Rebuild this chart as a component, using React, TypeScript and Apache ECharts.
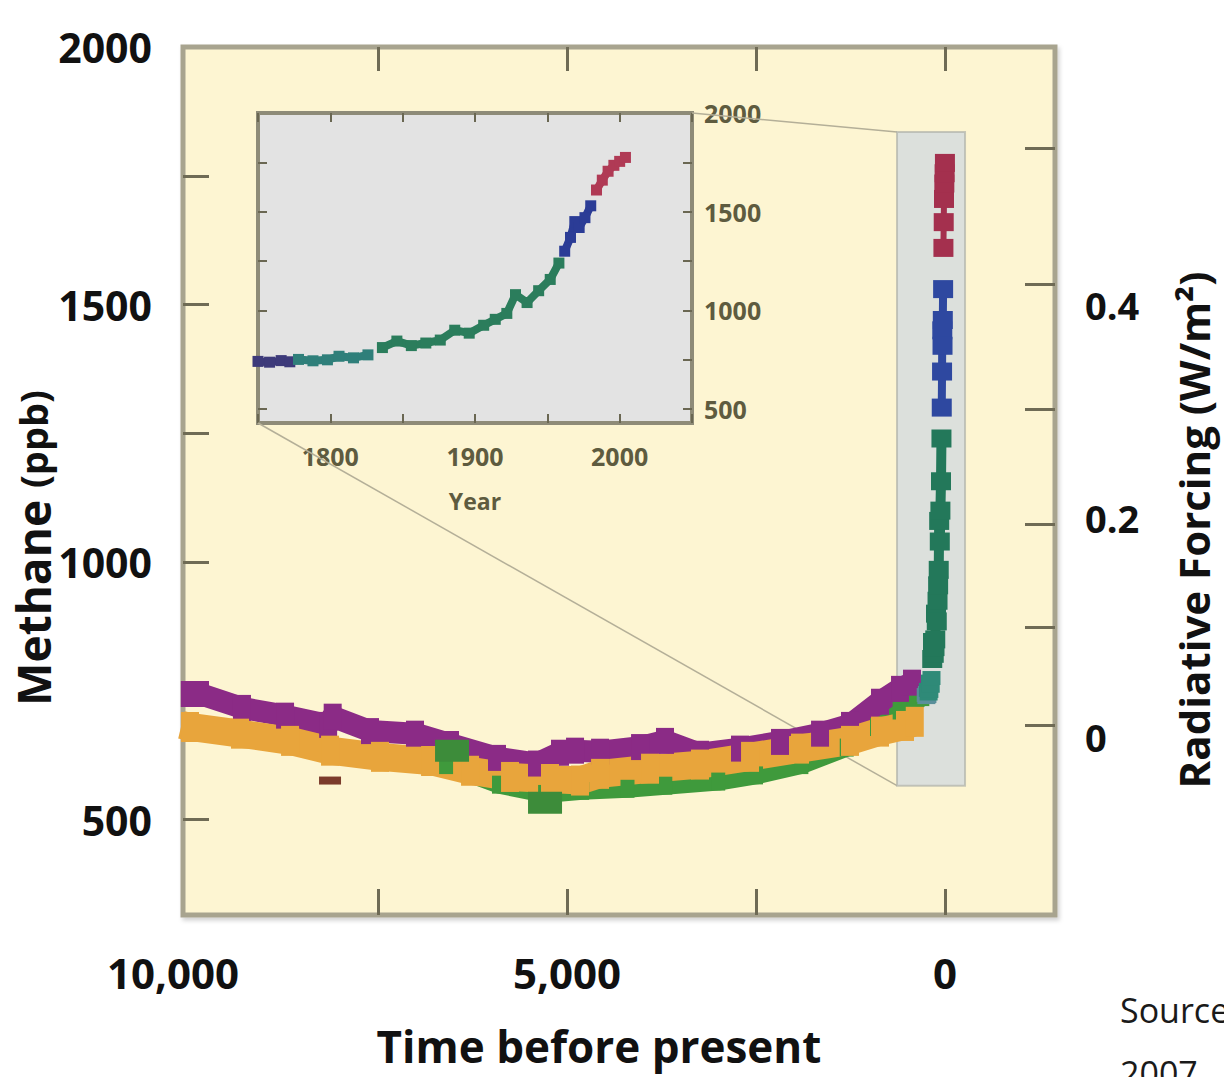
import React, { useEffect, useRef } from "react";
import * as echarts from "echarts";

// ---------- data ----------
const REF_YEAR = 2005;

// main panel x axis (years before present)
const mainXMin = -1455;
const mainXMax = 10080;
const mainXTicks = [7500, 5000, 2500, 0];
const mainXLabels = [10000, 5000, 0];

// methane axis (ppb)
const ppbMin = 315;
const ppbMax = 2000;
const ppbTicks = [500, 750, 1000, 1250, 1500, 1750];
const ppbLabels = [500, 1000, 1500, 2000];

// radiative forcing axis (positions in ppb)
const rfTickPpb = [684, 874, 1074, 1297, 1539, 1804];
const rfLabelPpb = [660, 1085, 1500];
const rfLabelText = ["0", "0.2", "0.4"];

// ice core series (years before present, ppb)
const purpleBP = [10100, 9990, 9855, 9300, 8730, 8160, 8100, 7606, 7011, 6548, 5926, 5397, 5093, 4894, 4563, 4034, 3704, 3241, 2712, 2183, 1653, 1257, 860, 595, 437];
const purplePpb = [744, 744, 744, 717, 702, 684, 700, 672, 667, 647, 620, 609, 630, 634, 632, 641, 653, 628, 638, 651, 667, 684, 729, 754, 766];

const orangeBP = [10100, 9987, 9326, 8664, 8135, 7474, 6812, 6283, 5754, 5225, 4828, 4563, 3902, 3241, 2579, 1918, 1257, 860, 529, 400];
const orangePpb = [684, 680, 667, 653, 634, 622, 614, 595, 583, 579, 576, 589, 599, 607, 622, 638, 653, 671, 682, 690];

const greenBP = [6600, 5900, 5290, 4800, 4200, 3700, 3000, 2500, 1900, 1300, 900, 600, 400, 300];
const greenPpb = [606, 568, 550, 556, 560, 566, 574, 586, 606, 640, 680, 712, 728, 738];

const greenBlobBP = [6521, 5291];
const greenBlobPpb = [634, 533];

const outlierBP = [8135];
const outlierPpb = [576];

// instrumental / firn era (calendar years, ppb)
const navyYears = [1750, 1758, 1766, 1772];
const navyPpb = [742, 738, 746, 740];
const tealYears = [1778, 1788, 1798, 1806, 1816, 1826];
const tealPpb = [752, 745, 750, 768, 760, 775];
const greenModYears = [1836, 1846, 1856, 1866, 1876, 1886, 1896, 1906, 1914, 1922, 1928, 1936, 1944, 1952, 1958];
const greenModPpb = [812, 845, 822, 835, 850, 900, 885, 925, 955, 985, 1080, 1040, 1100, 1157, 1240];
const blueYears = [1962, 1966, 1969, 1972, 1976, 1980];
const bluePpb = [1300, 1370, 1450, 1420, 1470, 1530];
const redYears = [1984, 1988, 1992, 1996, 2000, 2004];
const redPpb = [1610, 1660, 1705, 1735, 1755, 1775];

// highlighted recent period (years before present, ppb)
const bandBP = [635, -265];
const bandPpb = [566, 1835];

// inset axes
const insetXMin = 1750;
const insetXMax = 2050;
const insetXLabels = [1800, 1900, 2000];
const insetYMin = 430;
const insetYMax = 2000;
const insetYTicks = [500, 750, 1000, 1250, 1500, 1750];
const insetYLabels = [500, 1000, 1500, 2000];

// ---------- helpers ----------
const zip = (a: number[], b: number[]) => a.map((v, i) => [v, b[i]]);
const toBP = (years: number[]) => years.map((y) => REF_YEAR - y);
const plain = (v: number) => String(v);

const FONT = "Open Sans";
const TICK = "#6f6b55";
const INSET_TXT = "#5e5b3f";

export default function App() {
  const ref = useRef<HTMLDivElement>(null);

  useEffect(() => {
    if (!ref.current) return;
    const chart = echarts.init(ref.current, null, { renderer: "svg" });

    const mainLine = (name: string, data: number[][], color: string, width: number, sym: number[], z = 2) => ({
      name,
      type: "line",
      xAxisIndex: 0,
      yAxisIndex: 0,
      data,
      z,
      showAllSymbol: true,
      symbol: "rect",
      symbolSize: sym,
      itemStyle: { color },
      lineStyle: { color, width, cap: "butt", join: "round" },
      silent: true,
    });

    const insetLine = (name: string, data: number[][], color: string) => ({
      name,
      type: "line",
      xAxisIndex: 2,
      yAxisIndex: 2,
      data,
      showAllSymbol: true,
      symbol: "rect",
      symbolSize: 11,
      itemStyle: { color },
      lineStyle: { color, width: 8 },
      silent: true,
    });

    const noLine = { show: false, onZero: false };

    const titleTexts: any[] = [
      {
        id: "yTitle",
        type: "text",
        x: 33,
        y: 548,
        rotation: Math.PI / 2,
        silent: true,
        style: {
          text: "{a|Methane }{b|(ppb)}",
          align: "center",
          verticalAlign: "middle",
          rich: {
            a: { fontSize: 46, fontWeight: "bold", fill: "#111", fontFamily: FONT },
            b: { fontSize: 38, fontWeight: "bold", fill: "#111", fontFamily: FONT },
          },
        },
      },
      {
        id: "rTitle",
        type: "text",
        x: 1193,
        y: 530,
        rotation: Math.PI / 2,
        silent: true,
        style: {
          text: "Radiative Forcing (W/m²)",
          align: "center",
          verticalAlign: "middle",
          fontSize: 42,
          fontWeight: "bold",
          fill: "#111",
          fontFamily: FONT,
        },
      },
      {
        id: "xTitle",
        type: "text",
        x: 599,
        y: 1046,
        silent: true,
        style: {
          text: "Time before present",
          align: "center",
          verticalAlign: "middle",
          fontSize: 44,
          fontWeight: "bold",
          fill: "#111",
          fontFamily: FONT,
        },
      },
      {
        id: "src1",
        type: "text",
        x: 1120,
        y: 993,
        silent: true,
        style: { text: "Source: IPCC AR4,", fontSize: 34, fontFamily: FONT, fill: "#1a1a1a" },
      },
      {
        id: "src2",
        type: "text",
        x: 1120,
        y: 1056,
        silent: true,
        style: { text: "2007.", fontSize: 34, fontFamily: FONT, fill: "#1a1a1a" },
      },
    ];

    const bigLabel = { fontSize: 42, fontWeight: "bold", color: "#111", fontFamily: FONT };

    const option: any = {
      animation: false,
      textStyle: { fontFamily: FONT },
      grid: [
        {
          left: 183,
          top: 47,
          right: 169,
          bottom: 162,
          outerBoundsMode: "none",
          containLabel: false,
          show: true,
          backgroundColor: "#fdf5d2",
          borderColor: "#a8a48f",
          borderWidth: 5,
          shadowColor: "rgba(0,0,0,0.18)",
          shadowBlur: 4,
          shadowOffsetX: 2,
          shadowOffsetY: 3,
        },
        {
          left: 258,
          top: 113,
          width: 434,
          height: 310,
          outerBoundsMode: "none",
          containLabel: false,
          show: true,
          backgroundColor: "#e3e3e3",
          borderColor: "#8e8b78",
          borderWidth: 4,
        },
      ],
      xAxis: [
        {
          type: "value",
          gridIndex: 0,
          position: "bottom",
          inverse: true,
          min: mainXMin,
          max: mainXMax,
          axisLine: noLine,
          splitLine: { show: false },
          axisTick: { show: true, inside: true, length: 26, customValues: mainXTicks, lineStyle: { color: TICK, width: 3 } },
          axisLabel: {
            customValues: mainXLabels,
            formatter: (v: number) =>
              v === mainXLabels[0] ? `{l|${v.toLocaleString("en-US")}}` : `{n|${v === 0 ? "0" : v.toLocaleString("en-US")}}`,
            rich: {
              l: { ...bigLabel, padding: [0, 32, 0, 0] },
              n: { ...bigLabel },
            },
            ...bigLabel,
            margin: 36,
          },
        },
        {
          type: "value",
          gridIndex: 0,
          position: "top",
          inverse: true,
          min: mainXMin,
          max: mainXMax,
          axisLine: noLine,
          splitLine: { show: false },
          axisTick: { show: true, inside: true, length: 24, customValues: mainXTicks, lineStyle: { color: TICK, width: 3 } },
          axisLabel: { show: false },
        },
        {
          type: "value",
          gridIndex: 1,
          position: "bottom",
          min: insetXMin,
          max: insetXMax,
          interval: 50,
          axisLine: noLine,
          splitLine: { show: false },
          axisTick: { show: true, inside: true, length: 9, lineStyle: { color: "#6a6752", width: 2 } },
          axisLabel: {
            customValues: insetXLabels,
            formatter: plain,
            fontSize: 25,
            fontWeight: "bold",
            color: INSET_TXT,
            margin: 20,
            fontFamily: FONT,
          },
          name: "Year",
          nameLocation: "middle",
          nameGap: 66,
          nameTextStyle: { fontSize: 23, fontWeight: "bold", color: INSET_TXT, fontFamily: FONT },
        },
        {
          type: "value",
          gridIndex: 1,
          position: "top",
          min: insetXMin,
          max: insetXMax,
          interval: 50,
          axisLine: noLine,
          splitLine: { show: false },
          axisTick: { show: true, inside: true, length: 9, lineStyle: { color: "#6a6752", width: 2 } },
          axisLabel: { show: false },
        },
      ],
      yAxis: [
        {
          type: "value",
          gridIndex: 0,
          position: "left",
          min: ppbMin,
          max: ppbMax,
          axisLine: noLine,
          splitLine: { show: false },
          axisTick: { show: true, inside: true, length: 26, customValues: ppbTicks, lineStyle: { color: TICK, width: 3 } },
          axisLabel: {
            customValues: ppbLabels,
            formatter: plain,
            fontSize: 41,
            fontWeight: "bold",
            color: "#111",
            margin: 31,
            fontFamily: FONT,
          },
        },
        {
          type: "value",
          gridIndex: 0,
          position: "right",
          min: ppbMin,
          max: ppbMax,
          axisLine: noLine,
          splitLine: { show: false },
          axisTick: { show: true, inside: true, length: 30, customValues: rfTickPpb, lineStyle: { color: TICK, width: 3 } },
          axisLabel: {
            customValues: rfLabelPpb,
            formatter: (v: number) => {
              const i = rfLabelPpb.indexOf(v);
              return i >= 0 ? rfLabelText[i] : "";
            },
            fontSize: 38,
            fontWeight: "bold",
            color: "#111",
            margin: 30,
            fontFamily: FONT,
          },
        },
        {
          type: "value",
          gridIndex: 1,
          position: "left",
          min: insetYMin,
          max: insetYMax,
          axisLine: noLine,
          splitLine: { show: false },
          axisTick: { show: true, inside: true, length: 9, customValues: insetYTicks, lineStyle: { color: "#6a6752", width: 2 } },
          axisLabel: { show: false },
        },
        {
          type: "value",
          gridIndex: 1,
          position: "right",
          min: insetYMin,
          max: insetYMax,
          axisLine: noLine,
          splitLine: { show: false },
          axisTick: { show: true, inside: true, length: 9, customValues: insetYTicks, lineStyle: { color: "#6a6752", width: 2 } },
          axisLabel: {
            customValues: insetYLabels,
            formatter: plain,
            fontSize: 25,
            fontWeight: "bold",
            color: INSET_TXT,
            margin: 12,
            fontFamily: FONT,
          },
        },
      ],
      series: [
        {
          name: "band",
          type: "line",
          xAxisIndex: 0,
          yAxisIndex: 0,
          data: [],
          silent: true,
          markArea: {
            silent: true,
            itemStyle: { color: "rgba(214,220,222,0.85)", borderColor: "rgba(175,178,170,0.7)", borderWidth: 2 },
            data: [[{ xAxis: bandBP[0], yAxis: bandPpb[0] }, { xAxis: bandBP[1], yAxis: bandPpb[1] }]],
          },
        },
        mainLine("green", zip(greenBP, greenPpb), "#3f9a3c", 18, [14, 18]),
        mainLine("purple", zip(purpleBP, purplePpb), "#8b2b86", 22, [18, 26]),
        mainLine("orange", zip(orangeBP, orangePpb), "#e8a53c", 28, [18, 30]),
        {
          name: "greenBlobs",
          type: "scatter",
          xAxisIndex: 0,
          yAxisIndex: 0,
          data: zip(greenBlobBP, greenBlobPpb),
          symbol: "rect",
          symbolSize: [34, 22],
          itemStyle: { color: "#3d8c3a", opacity: 1 },
          silent: true,
          z: 3,
        },
        {
          name: "outlier",
          type: "scatter",
          xAxisIndex: 0,
          yAxisIndex: 0,
          data: zip(outlierBP, outlierPpb),
          symbol: "rect",
          symbolSize: [22, 8],
          itemStyle: { color: "#7b3b2b", opacity: 1 },
          silent: true,
          z: 3,
        },
        mainLine("navyMain", zip(toBP(navyYears), navyPpb), "#5a8f9a", 8, [18, 14], 3),
        mainLine("tealMain", zip(toBP(tealYears), tealPpb), "#2f8a78", 8, [18, 14], 3),
        mainLine("greenMain", zip(toBP(greenModYears), greenModPpb), "#23785a", 10, [20, 18], 3),
        mainLine("blueMain", zip(toBP(blueYears), bluePpb), "#2e48a0", 8, [20, 18], 3),
        mainLine("redMain", zip(toBP(redYears), redPpb), "#a4304e", 6, [20, 18], 3),
        insetLine("navy", zip(navyYears, navyPpb), "#3d3a7a"),
        insetLine("teal", zip(tealYears, tealPpb), "#2f7f7a"),
        insetLine("greenInset", zip(greenModYears, greenModPpb), "#2b7d5c"),
        insetLine("blue", zip(blueYears, bluePpb), "#2b3c96"),
        insetLine("red", zip(redYears, redPpb), "#b03a55"),
      ],
      graphic: titleTexts,
    };

    chart.setOption(option);

    const a1 = chart.convertToPixel({ xAxisIndex: 2, yAxisIndex: 2 } as any, [insetXMax, insetYMax]) as number[];
    const b1 = chart.convertToPixel({ xAxisIndex: 0, yAxisIndex: 0 } as any, [bandBP[0], bandPpb[1]]) as number[];
    const a2 = chart.convertToPixel({ xAxisIndex: 2, yAxisIndex: 2 } as any, [insetXMin, insetYMin]) as number[];
    const b2 = chart.convertToPixel({ xAxisIndex: 0, yAxisIndex: 0 } as any, [bandBP[0], bandPpb[0]]) as number[];

    if (a1 && b1 && a2 && b2) {
      chart.setOption({
        graphic: [
          ...titleTexts,
          {
            id: "conn1",
            type: "line",
            silent: true,
            z: 1,
            shape: { x1: a1[0], y1: a1[1], x2: b1[0], y2: b1[1] },
            style: { stroke: "#b4af98", lineWidth: 1.5 },
          },
          {
            id: "conn2",
            type: "line",
            silent: true,
            z: 1,
            shape: { x1: a2[0], y1: a2[1], x2: b2[0], y2: b2[1] },
            style: { stroke: "#b4af98", lineWidth: 1.5 },
          },
        ],
      });
    }

    return () => chart.dispose();
  }, []);

  return (
    <div
      ref={ref}
      style={{ position: "absolute", left: 0, top: 0, width: 1224, height: 1077, background: "#ffffff" }}
    />
  );
}
